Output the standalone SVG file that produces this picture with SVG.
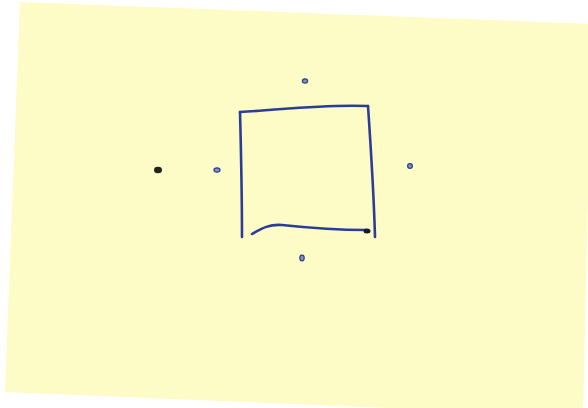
<svg xmlns="http://www.w3.org/2000/svg" width="588" height="408" viewBox="0 0 588 408">
  <style>
    .pen { fill: none; stroke: #2b3d96; stroke-width: 2.6; stroke-linecap: round; stroke-linejoin: round; }
    .dot { fill: #3a4fa8; stroke: #2b3d96; stroke-width: 1.2; }
  </style>
  <rect width="588" height="408" fill="#ffffff"/>
  <polygon points="20,2 592,24 583,416 5,392" fill="#fdfbc6"/>
  <g id="square">
    <path class="pen" d="M240,112 C280,110 320,104 368,106"/>
    <path class="pen" d="M240,112 C241,150 242,200 242,237"/>
    <path class="pen" d="M368,106 C371,150 374,200 375,237"/>
    <path class="pen" d="M252,234 C262,228 270,224 282,225 C310,228 340,230 366,230"/>
  </g>
  <g id="corner-dot"><ellipse cx="367" cy="231" rx="3.5" ry="2.5" fill="#14182a"/></g>
  <g id="black-dot"><ellipse cx="158" cy="170" rx="4" ry="3.2" fill="#1d2418"/></g>
  <g id="dot-top"><ellipse class="dot" cx="305" cy="81" rx="2.6" ry="2.2" fill-opacity="0.6"/></g>
  <g id="dot-right"><ellipse class="dot" cx="410" cy="166" rx="2.4" ry="2.4" fill-opacity="0.6"/></g>
  <g id="dot-left"><ellipse class="dot" cx="217" cy="170" rx="3" ry="2.2" fill-opacity="0.6"/></g>
  <g id="dot-bottom"><ellipse class="dot" cx="302" cy="258" rx="2.2" ry="2.8" fill-opacity="0.6"/></g>
</svg>
